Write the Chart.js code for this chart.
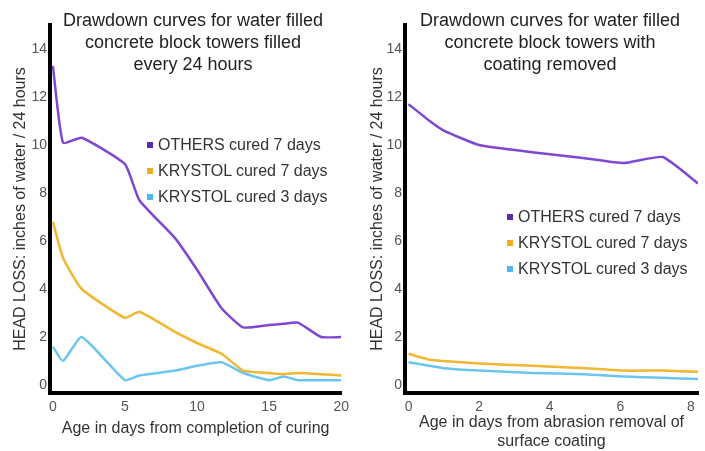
<!DOCTYPE html>
<html lang="en">
<head>
<meta charset="UTF-8">
<title>Drawdown curves</title>
<script src="https://cdn.jsdelivr.net/npm/chart.js"></script>
<style>
  body { margin: 0; background: #fff; font-family: "Liberation Sans", Arial, sans-serif; }
  #wrap { position: relative; width: 705px; height: 451px; overflow: hidden; }
  .box { position: absolute; top: 0; height: 451px; }
  .title { position: absolute; text-align: center; font-size: 18px; line-height: 22px; color: #222; width: 330px; }
  .legend { position: absolute; font-size: 16px; color: #333; }
  .legend div { height: 26px; line-height: 26px; white-space: nowrap; }
  .legend span { display: inline-block; width: 6px; height: 6px; margin-right: 5px; vertical-align: middle; position: relative; top: -1px; }
</style>
</head>
<body>
<div id="wrap">
  <div class="box" style="left:0;width:355px"><canvas id="leftChart" width="355" height="451"></canvas></div>
  <div class="box" style="left:355px;width:350px"><canvas id="rightChart" width="350" height="451"></canvas></div>
  <div class="title" style="left:28px;top:9px">Drawdown curves for water filled<br>concrete block towers filled<br>every 24 hours</div>
  <div class="title" style="left:385px;top:9px">Drawdown curves for water filled<br>concrete block towers with<br>coating removed</div>
  <div class="legend" id="leftLegend" style="left:147px;top:132px"></div>
  <div class="legend" id="rightLegend" style="left:507px;top:204px"></div>
</div>

<script>
// series names and colours
const seriesNames = ['OTHERS cured 7 days', 'KRYSTOL cured 7 days', 'KRYSTOL cured 3 days'];
const lineColors = ['#7f47d2', '#f2b630', '#6cc5ef'];
const boxColors = ['#5a2bb0', '#f0ae1e', '#4fb8ea'];

// left chart: filled every 24 hours
const leftDays = [0, 0.7, 2, 5, 6, 8.5, 10, 11.7, 13.2, 15, 16, 17, 18.6, 20];
const leftOthers7 = [13.3, 10.1, 10.3, 9.2, 7.7, 6.1, 4.8, 3.2, 2.4, 2.5, 2.55, 2.6, 2.0, 2.0];
const leftKrystol7 = [6.8, 5.3, 4.0, 2.8, 3.05, 2.2, 1.75, 1.3, 0.6, 0.5, 0.45, 0.5, 0.45, 0.4];
const leftKrystol3 = [1.6, 1.0, 2.0, 0.2, 0.4, 0.6, 0.8, 0.95, 0.5, 0.2, 0.35, 0.2, 0.2, 0.2];
const leftXTicks = [0, 5, 10, 15, 20];

// right chart: coating removed
const rightDays = [0, 0.6, 1, 2, 3.5, 5, 6.1, 7.2, 8.2];
const rightOthers7 = [11.7, 11.0, 10.6, 10.0, 9.7, 9.45, 9.25, 9.5, 8.4];
const rightKrystol7 = [1.3, 1.05, 1.0, 0.9, 0.8, 0.7, 0.6, 0.6, 0.55];
const rightKrystol3 = [0.95, 0.8, 0.7, 0.6, 0.5, 0.45, 0.35, 0.3, 0.25];
const rightXTicks = [0, 2, 4, 6, 8];

const yTicks = [0, 2, 4, 6, 8, 10, 12, 14];
const yTitle = 'HEAD LOSS: inches of water / 24 hours';

const tickFont = { family: '"Liberation Sans", Arial, sans-serif', size: 14 };
const titleFont = { family: '"Liberation Sans", Arial, sans-serif', size: 16 };

function makeChart(id, days, series, xTicks, xMin, xMax, xTitle, padRight, yTitlePad, xTitlePad) {
    const datasets = series.map((vals, i) => ({
        label: seriesNames[i],
        data: vals.map((v, j) => ({ x: days[j], y: v })),
        borderColor: lineColors[i],
        backgroundColor: lineColors[i],
        borderWidth: 2.5,
        pointRadius: 0,
        tension: 0.15,
        fill: false
    }));

    return new Chart(document.getElementById(id), {
        type: 'line',
        data: { datasets: datasets },
        options: {
            responsive: false,
            animation: false,
            layout: { padding: { top: 25, right: padRight, bottom: 0, left: 0 } },
            plugins: { legend: { display: false }, tooltip: { enabled: false } },
            scales: {
                x: {
                    type: 'linear',
                    min: xMin, max: xMax,
                    grid: { display: false, drawTicks: false },
                    border: { color: '#000', width: 4 },
                    afterBuildTicks: s => { s.ticks = xTicks.map(v => ({ value: v })); },
                    afterFit: s => { s.height = 58; },
                    ticks: { color: '#555', font: tickFont, padding: 6, maxRotation: 0 },
                    title: { display: true, text: xTitle, color: '#333', font: titleFont, padding: { top: 0, bottom: xTitlePad } }
                },
                y: {
                    min: -1 / 3, max: 15,
                    grid: { display: false, drawTicks: false },
                    border: { color: '#000', width: 4 },
                    afterBuildTicks: s => { s.ticks = yTicks.map(v => ({ value: v })); },
                    afterFit: s => { s.width = 50; },
                    ticks: { color: '#555', font: tickFont, padding: 3 },
                    title: { display: true, text: yTitle, color: '#333', font: titleFont, padding: { top: yTitlePad, bottom: 0 } }
                }
            }
        }
    });
}

makeChart('leftChart', leftDays, [leftOthers7, leftKrystol7, leftKrystol3], leftXTicks,
    -0.2, 20, 'Age in days from completion of curing', 12, 11, 13);
makeChart('rightChart', rightDays, [rightOthers7, rightKrystol7, rightKrystol3], rightXTicks,
    -0.1, 8.2, ['Age in days from abrasion removal of', 'surface coating'], 7, 13, 0);

// legends
['leftLegend', 'rightLegend'].forEach(id => {
    const el = document.getElementById(id);
    seriesNames.forEach((name, i) => {
        const row = document.createElement('div');
        const sq = document.createElement('span');
        sq.style.background = boxColors[i];
        row.appendChild(sq);
        row.appendChild(document.createTextNode(name));
        el.appendChild(row);
    });
});
</script>
</body>
</html>
